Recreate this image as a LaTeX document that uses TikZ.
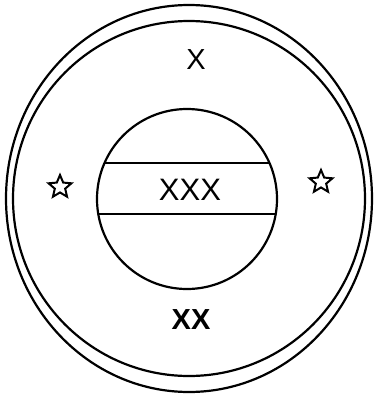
\documentclass[tikz,border=0pt]{standalone}
\usepackage{fontspec}
\setmainfont{Liberation Sans}
\usetikzlibrary{shapes.geometric}
\tikzset{
  ring/.style={line width=2.2pt},
  sign/.style={font=\fontsize{#1}{#1}\selectfont,inner sep=0pt},
  starmark/.style={star,star points=5,star point ratio=2.2,draw,line width=2pt,
    minimum size=24pt,inner sep=0pt},
}

\begin{document}
\begin{tikzpicture}[x=1pt,y=-1pt]
  \useasboundingbox (0,0) rectangle (377,394);
  % double rim
  \draw[ring] (189,198.5) ellipse [x radius=183, y radius=193.5];
  \draw[ring] (189,198.5) ellipse [x radius=176, y radius=177.5];
  % centre disc with band
  \node[circle,draw,ring,minimum size=180pt,inner sep=0pt] (disc) at (187,199) {};
  \begin{scope}
    \clip (disc.center) circle (90);
    \draw[ring] (90,163) -- (290,163);
    \draw[ring] (90,214) -- (290,214);
  \end{scope}
  % texts
  \node[sign=29] (top) at (196,60) {X};
  \node[sign=31] (band) at (190,190) {XXX};
  \node[sign=29] (bottom) at (191,320) {\bfseries XX};
  % stars
  \node[starmark] (lstar) at (60,187) {};
  \node[starmark] (rstar) at (321,182) {};
\end{tikzpicture}
\end{document}
